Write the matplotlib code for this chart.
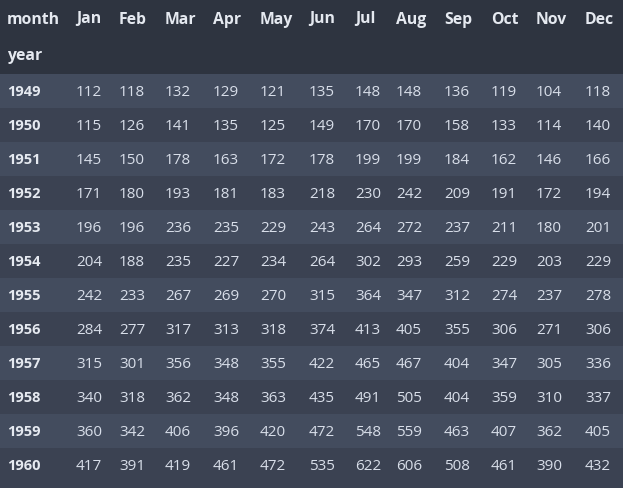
import matplotlib
matplotlib.use('Agg')
import matplotlib.pyplot as plt

months = ['Jan', 'Feb', 'Mar', 'Apr', 'May', 'Jun',
          'Jul', 'Aug', 'Sep', 'Oct', 'Nov', 'Dec']
years = [1949, 1950, 1951, 1952, 1953, 1954,
         1955, 1956, 1957, 1958, 1959, 1960]
passengers = [
    [112, 118, 132, 129, 121, 135, 148, 148, 136, 119, 104, 118],
    [115, 126, 141, 135, 125, 149, 170, 170, 158, 133, 114, 140],
    [145, 150, 178, 163, 172, 178, 199, 199, 184, 162, 146, 166],
    [171, 180, 193, 181, 183, 218, 230, 242, 209, 191, 172, 194],
    [196, 196, 236, 235, 229, 243, 264, 272, 237, 211, 180, 201],
    [204, 188, 235, 227, 234, 264, 302, 293, 259, 229, 203, 229],
    [242, 233, 267, 269, 270, 315, 364, 347, 312, 274, 237, 278],
    [284, 277, 317, 313, 318, 374, 413, 405, 355, 306, 271, 306],
    [315, 301, 356, 348, 355, 422, 465, 467, 404, 347, 305, 336],
    [340, 318, 362, 348, 363, 435, 491, 505, 404, 359, 310, 337],
    [360, 342, 406, 396, 420, 472, 548, 559, 463, 407, 362, 405],
    [417, 391, 419, 461, 472, 535, 622, 606, 508, 461, 390, 432],
]

# layout (pixels)
W, H = 623, 488
col_x = [76, 119, 165, 213, 260, 309, 355, 396, 444, 491, 536, 585]
idx_x = 7
head_h = 37
row_h = 34
body_top = 2 * head_h

header_bg = '#2e3440'
row_bg = ['#434c5e', '#3b4252']
head_fg = '#e5e9f0'
cell_fg = '#d8dee9'
font = ['Open Sans', 'DejaVu Sans']

fig = plt.figure(figsize=(W / 100, H / 100), dpi=100)
ax = fig.add_axes([0, 0, 1, 1])
ax.set_xlim(0, W)
ax.set_ylim(H, 0)
ax.axis('off')
fig.patch.set_facecolor(row_bg[1])

ax.axhspan(0, body_top, color=header_bg, lw=0)
for i, yr in enumerate(years):
    y0 = body_top + i * row_h
    ax.axhspan(y0, y0 + row_h, color=row_bg[i % 2], lw=0)

ax.text(idx_x, head_h / 2 + 1, 'month', color=head_fg, fontsize=11.3,
        fontweight='bold', family=font, va='center', ha='left')
ax.text(idx_x, head_h * 1.5 + 1, 'year', color=head_fg, fontsize=11.3,
        fontweight='bold', family=font, va='center', ha='left')
for x, m in zip(col_x, months):
    ax.text(x, head_h / 2 + 1, m, color=head_fg, fontsize=11.3,
            fontweight='bold', family=font, va='center', ha='left')

for i, yr in enumerate(years):
    yc = body_top + i * row_h + row_h / 2 + 1
    ax.text(idx_x, yc, str(yr), color=head_fg, fontsize=10.5,
            fontweight='bold', family=font, va='center', ha='left')
    for x, v in zip(col_x, passengers[i]):
        ax.text(x, yc, str(v), color=cell_fg, fontsize=11,
                family=font, va='center', ha='left')

fig.savefig('out.png', dpi=100, facecolor=fig.get_facecolor())
